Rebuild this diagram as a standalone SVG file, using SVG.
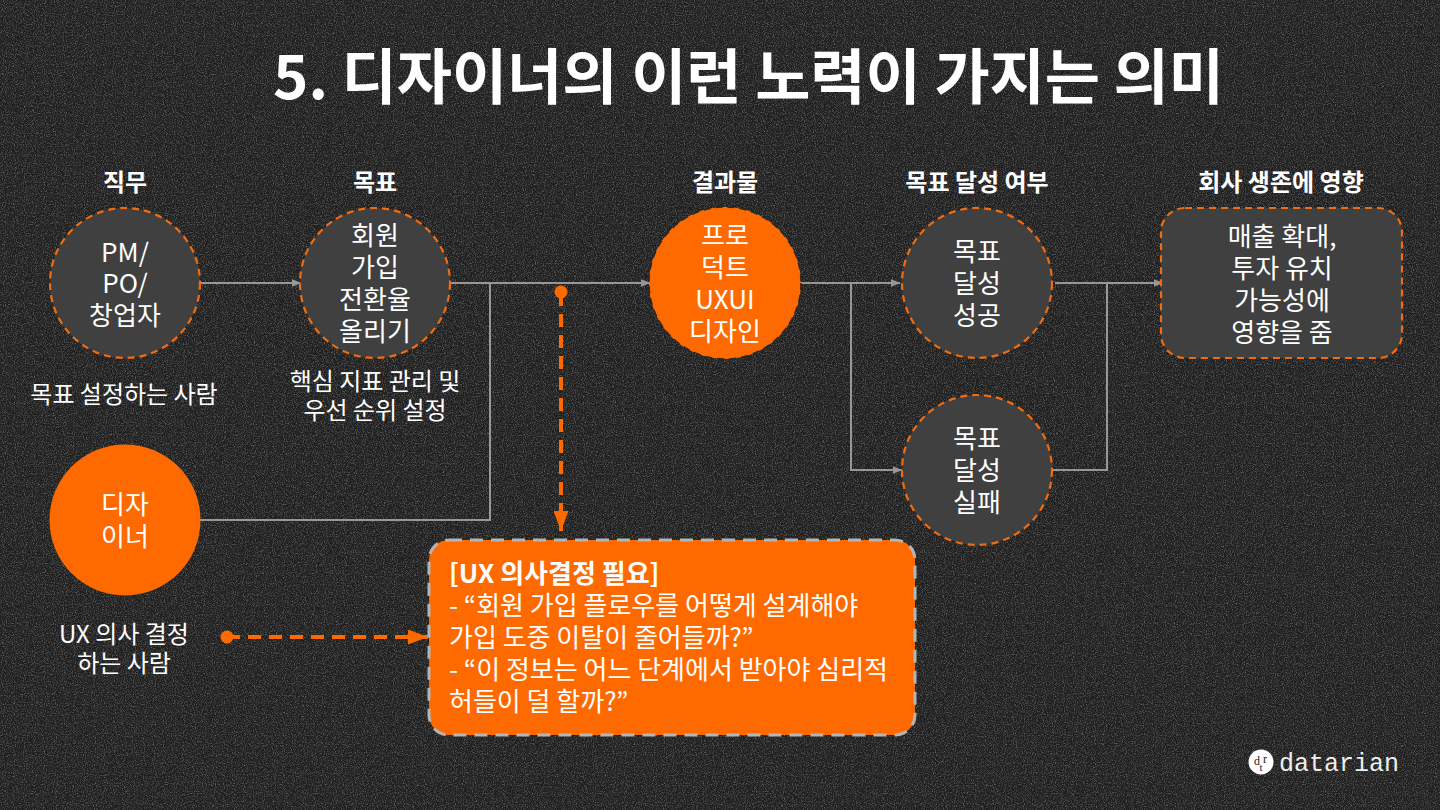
<svg xmlns="http://www.w3.org/2000/svg" width="1440" height="810" viewBox="0 0 1440 810">
<style>
text{font-family:"Noto Sans CJK KR","Noto Sans",sans-serif;fill:#fff;text-anchor:middle;font-size:26px}
.title{font-size:60px;font-weight:700}
.h{font-size:24px;font-weight:700}
.s{font-size:24px}
.box{font-size:26px;text-anchor:start}
.c{fill:#404040;stroke:#f06c10;stroke-width:2.2;stroke-dasharray:7 5}
.o{fill:#ff6a00;stroke:#2a2a2a;stroke-width:1.5;stroke-dasharray:7 5}
.l{fill:none;stroke:#979797;stroke-width:2}
.d{fill:none;stroke:#ff6a00;stroke-width:4;stroke-dasharray:13 8}
</style>
<defs>
<filter id="n" x="0" y="0" width="100%" height="100%"><feTurbulence type="fractalNoise" baseFrequency="0.9" numOctaves="2" seed="4"/><feColorMatrix values="0 0 0 0 1 0 0 0 0 1 0 0 0 0 1 1.8 0 0 0 -0.8"/></filter>
<marker id="g" markerWidth="10" markerHeight="8" refX="9.5" refY="4" orient="auto" markerUnits="userSpaceOnUse"><path d="M0 0L10 4L0 8z" fill="#979797"/></marker>
<marker id="o" markerWidth="20" markerHeight="15" refX="20" refY="7.5" orient="auto" markerUnits="userSpaceOnUse"><path d="M0 0L20 7.5L0 15z" fill="#ff6a00"/></marker>
</defs>
<rect width="1440" height="810" fill="#1f1f1f"/>
<rect width="1440" height="810" filter="url(#n)" opacity=".42"/>
<text class="title" x="748.5" y="99">5. 디자이너의 이런 노력이 가지는 의미</text>
<g id="headers">
<text class="h" x="125" y="191">직무</text>
<text class="h" x="375" y="191">목표</text>
<text class="h" x="725" y="191">결과물</text>
<text class="h" x="977" y="191">목표 달성 여부</text>
<text class="h" x="1281" y="191">회사 생존에 영향</text>
</g>
<g id="connectors">
<path class="l" marker-end="url(#g)" d="M200 283H301"/>
<path class="l" marker-end="url(#g)" d="M450 283H650"/>
<path class="l" d="M200 520H490V283"/>
<path class="l" marker-end="url(#g)" d="M800 283H900"/>
<path class="l" marker-end="url(#g)" d="M851 283V470H902"/>
<path class="l" marker-end="url(#g)" d="M1055 283H1163"/>
<path class="l" d="M1052 470H1107V283"/>
<path class="d" marker-end="url(#o)" d="M561 293V531"/>
<circle cx="561" cy="292" r="6.5" fill="#ff6a00"/>
<path class="d" marker-end="url(#o)" d="M227 637H428"/>
<circle cx="227" cy="637" r="6.5" fill="#ff6a00"/>
</g>
<g id="pm"><circle class="c" cx="125" cy="283" r="75"/><text><tspan x="125" y="262">PM/</tspan><tspan x="125" y="293">PO/</tspan><tspan x="125" y="325">창업자</tspan></text></g>
<g id="goal"><circle class="c" cx="375" cy="283" r="75"/><text><tspan x="375" y="245">회원</tspan><tspan x="375" y="277">가입</tspan><tspan x="375" y="309">전환율</tspan><tspan x="375" y="341">올리기</tspan></text></g>
<g id="output"><circle class="o" cx="725" cy="283" r="76"/><text><tspan x="725" y="245">프로</tspan><tspan x="725" y="277">덕트</tspan><tspan x="725" y="309">UXUI</tspan><tspan x="725" y="341">디자인</tspan></text></g>
<g id="success"><circle class="c" cx="977" cy="283" r="75"/><text><tspan x="977" y="261">목표</tspan><tspan x="977" y="293">달성</tspan><tspan x="977" y="325">성공</tspan></text></g>
<g id="fail"><circle class="c" cx="977" cy="470" r="75"/><text><tspan x="977" y="448">목표</tspan><tspan x="977" y="480">달성</tspan><tspan x="977" y="512">실패</tspan></text></g>
<g id="company"><rect class="c" x="1161" y="208" width="241" height="150" rx="24"/><text><tspan x="1282" y="246">매출 확대,</tspan><tspan x="1282" y="278">투자 유치</tspan><tspan x="1282" y="310">가능성에</tspan><tspan x="1282" y="342">영향을 줌</tspan></text></g>
<g id="designer"><circle cx="125" cy="520" r="75.5" fill="#ff6a00"/><text><tspan x="125" y="514">디자</tspan><tspan x="125" y="546">이너</tspan></text></g>
<g id="notes">
<text class="s" x="124" y="403">목표 설정하는 사람</text>
<text class="s"><tspan x="375" y="390">핵심 지표 관리 및</tspan><tspan x="375" y="419">우선 순위 설정</tspan></text>
<text class="s"><tspan x="124" y="643">UX 의사 결정</tspan><tspan x="124" y="672">하는 사람</tspan></text>
</g>
<g id="decision"><rect x="429" y="540" width="486" height="195" rx="20" fill="#ff6a00" stroke="#b5b5b5" stroke-width="3" stroke-dasharray="13 8"/>
<text class="box"><tspan x="449" y="583" style="font-weight:700">[UX 의사결정 필요]</tspan><tspan x="449" y="615">- “회원 가입 플로우를 어떻게 설계해야</tspan><tspan x="449" y="647">가입 도중 이탈이 줄어들까?”</tspan><tspan x="449" y="679">- “이 정보는 어느 단계에서 받아야 심리적</tspan><tspan x="449" y="711">허들이 덜 할까?”</tspan></text>
</g>
<g id="logo"><circle cx="1261" cy="762" r="12.5" fill="#fff"/>
<text x="1257" y="765" style="font-family:'Liberation Serif',serif;font-size:12px;fill:#222">d</text><text x="1265" y="763" style="font-family:'Liberation Serif',serif;font-size:12px;fill:#222">r</text><text x="1261" y="771" style="font-family:'Liberation Serif',serif;font-size:11px;fill:#222">t</text>
<text x="1339" y="771" style="font-family:'Liberation Mono',monospace;font-size:25px;fill:#eee">datarian</text></g>
</svg>
